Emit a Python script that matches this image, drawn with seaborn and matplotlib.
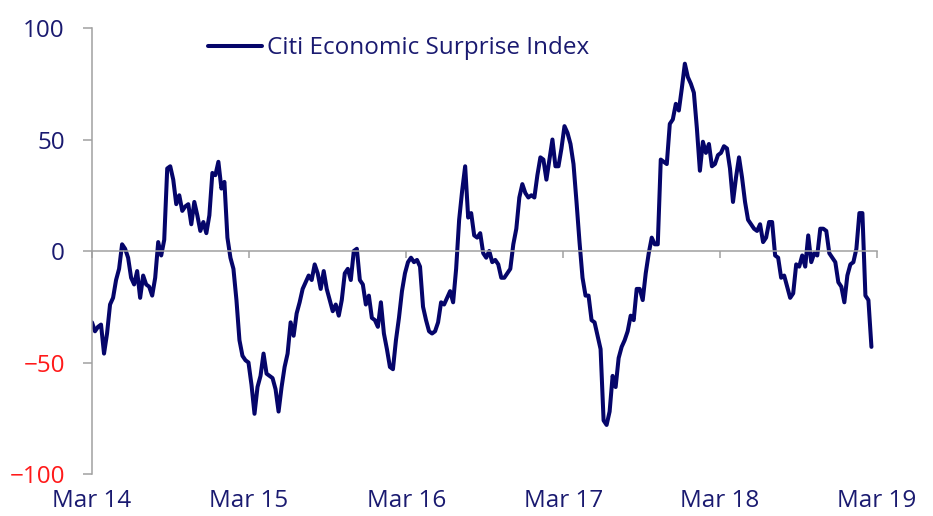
import numpy as np
import seaborn as sns
import pandas as pd
import matplotlib
matplotlib.use('Agg')
import matplotlib.pyplot as plt
import matplotlib.dates as mdates

# weekly readings of the index, one list per stretch of the chart
csi_2014 = [-32, -36, -34, -33, -46, -37, -24, -21, -13, -8,
            3, 1, -3, -12, -15, -9, -21, -11, -15, -16,
            -20, -12, 4, -2, 5, 37, 38, 32, 21, 25,
            18, 20, 21, 12, 22, 16, 9, 13, 8, 16,
            35, 34, 40, 28, 31, 6, -3, -8, -22, -40,
            -47, -49, -50, -60, -73, -61, -56]
csi_2015 = [-46, -55, -56, -57, -62, -72, -61, -52, -46, -32,
            -38, -28, -23, -17, -14, -11, -13, -6, -10, -17,
            -9, -17, -22, -27, -24, -29, -22, -10, -8, -13,
            0, 1, -13, -15, -24, -20, -30, -31, -34, -23,
            -37, -44, -52, -53, -40]
csi_2016 = [-30, -18, -10, -5, -3, -5, -4, -7, -25, -31,
            -36, -37, -36, -32, -23, -24, -21, -18, -23, -8,
            14, 27, 38, 15, 17, 7, 6, 8, -1, -3,
            0, -5, -4, -6, -12, -12, -10, -8, 3, 10,
            24, 30, 26, 24, 25, 24, 34, 42, 41, 32,
            41, 50, 38]
csi_2017 = [38, 46, 56, 53, 48, 39, 22, 4, -12, -20,
            -20, -31, -32, -38, -44, -76, -78, -72, -56, -61,
            -48, -43, -40, -36, -29, -31, -17, -17, -22, -10,
            -1, 6, 3, 3, 41, 40, 39, 57, 59, 66,
            63, 73, 84, 78, 75, 71, 55, 36, 49, 44,
            48, 38, 39]
csi_2018 = [43, 44, 47, 46, 37, 22, 33, 42, 33, 22,
            14, 12, 10, 9, 12, 4, 6, 13, 13, -2,
            -3, -12, -11, -16, -21, -19, -6, -7, -2, -7,
            7, -5, -1, -2, 10, 10, 9, -1, -3, -5,
            -14, -16, -23, -11, -6, -5, 1, 17, 17, -20,
            -22, -43]

values = csi_2014 + csi_2015 + csi_2016 + csi_2017 + csi_2018
dates = pd.date_range('2014-03-01', periods=len(values), freq='7D')
df = pd.DataFrame({'date': dates, 'value': values})

y_ticks = [-100, -50, 0, 50, 100]
series_name = 'Citi Economic Surprise Index'

line_col = '#05056a'
text_col = '#1a1a70'
red = '#ff1a1a'
grey = '#a0a0a0'
fs = 17.5

sns.set_style('white')
plt.rcParams['font.family'] = ['Open Sans', 'DejaVu Sans']

fig = plt.figure(figsize=(9.33, 5.16), dpi=100)
ax = fig.add_axes([0.0986, 0.0814, 0.8414, 0.8643])

sns.lineplot(data=df, x='date', y='value', color=line_col, linewidth=2.9,
             label=series_name, ax=ax)

ax.set_xlim(pd.Timestamp('2014-03-01'), pd.Timestamp('2019-03-01'))
ax.set_ylim(-100, 100)
ax.set_yticks(y_ticks)
ax.set_xlabel('')
ax.set_ylabel('')

for s in ['top', 'right']:
    ax.spines[s].set_visible(False)
ax.spines['bottom'].set_position(('data', 0))
for s in ['left', 'bottom']:
    ax.spines[s].set_color(grey)
    ax.spines[s].set_linewidth(1.1)

ax.xaxis.set_major_locator(mdates.MonthLocator(bymonth=3))
ax.tick_params(axis='x', bottom=True, direction='out', length=5, width=1.1,
               color=grey, labelbottom=False)
ax.tick_params(axis='y', left=True, direction='out', length=6.5, width=1.1,
               color=grey, labelsize=fs, pad=13)
for t, v in zip(ax.get_yticklabels(), y_ticks):
    t.set_color(red if v < 0 else text_col)

# date labels sit under the plot, below -100
sec = ax.secondary_xaxis('bottom')
sec.xaxis.set_major_locator(mdates.MonthLocator(bymonth=3))
sec.xaxis.set_major_formatter(mdates.DateFormatter('%b %y'))
sec.spines['bottom'].set_visible(False)
sec.tick_params(length=0, pad=11, labelsize=fs, colors=text_col)

ax.legend(loc='upper left', bbox_to_anchor=(0.148, 0.982), frameon=False,
          handlelength=2.2, handletextpad=0.2, borderaxespad=0, borderpad=0,
          fontsize=fs, labelcolor=text_col)

fig.savefig('out.png', dpi=100)
